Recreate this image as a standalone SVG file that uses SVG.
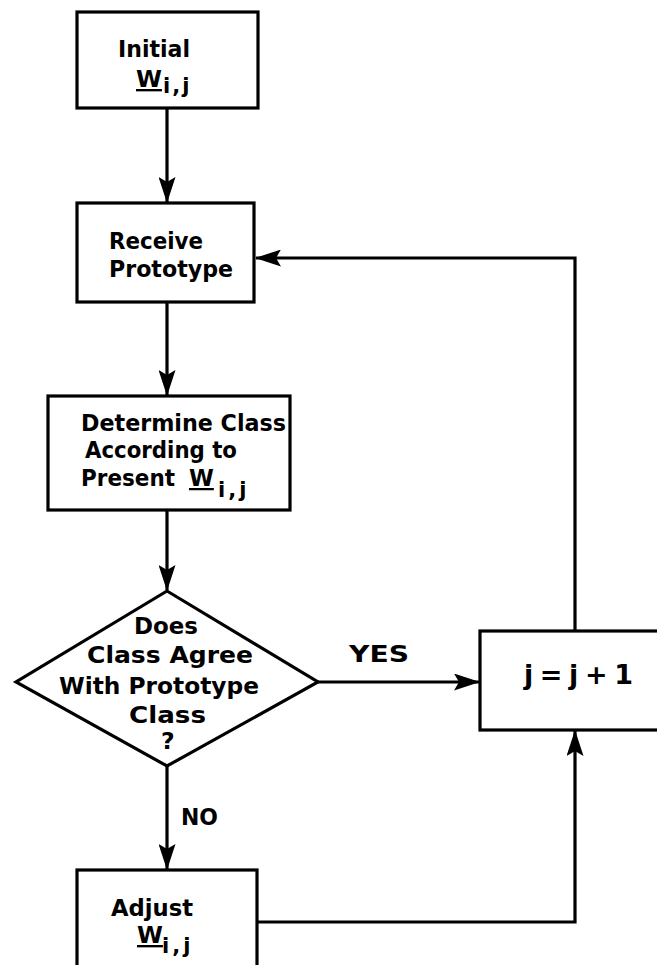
<svg xmlns="http://www.w3.org/2000/svg" width="657" height="965" viewBox="0 0 657 965">
<style>
.box{fill:#fff;stroke:#000;stroke-width:3.2}
.ln{fill:none;stroke:#000;stroke-width:3.2}
text{font-family:"DejaVu Sans","Liberation Sans",Arial,sans-serif;font-size:23.5px;font-weight:bold;fill:#000}
.sub{font-size:21px}
.big{font-size:27px}
.mid{font-size:22.5px}
.ul{text-decoration:underline}
</style>
<defs>
<marker id="ah" viewBox="0 0 26 17" refX="25" refY="8.5" markerWidth="26" markerHeight="17" markerUnits="userSpaceOnUse" orient="auto">
<path d="M0,0 L26,8.5 L0,17 L5,8.5 Z" fill="#000"/>
</marker>
</defs>
<rect width="657" height="965" fill="#fff"/>
<g id="connectors">
<line class="ln" x1="167" y1="108" x2="167" y2="202" marker-end="url(#ah)"/>
<line class="ln" x1="167" y1="302" x2="167" y2="395" marker-end="url(#ah)"/>
<line class="ln" x1="167" y1="510" x2="167" y2="590" marker-end="url(#ah)"/>
<line class="ln" x1="167" y1="766" x2="167" y2="869" marker-end="url(#ah)"/>
<line class="ln" x1="318" y1="682" x2="479" y2="682" marker-end="url(#ah)"/>
<polyline class="ln" points="575,631 575,258 256,258" marker-end="url(#ah)"/>
<polyline class="ln" points="257,922 575,922 575,731" marker-end="url(#ah)"/>
</g>
<g id="initial">
<rect class="box" x="77" y="12" width="181" height="96"/>
<text x="118" y="57" textLength="72" lengthAdjust="spacingAndGlyphs">Initial</text>
<text x="136" y="87"><tspan class="ul">W</tspan></text>
<text class="sub" x="163" y="93" letter-spacing="2">i,j</text>
</g>
<g id="receive">
<rect class="box" x="77" y="203" width="177" height="99"/>
<text x="109" y="249" textLength="94" lengthAdjust="spacingAndGlyphs">Receive</text>
<text x="109" y="277" textLength="124" lengthAdjust="spacingAndGlyphs">Prototype</text>
</g>
<g id="determine">
<rect class="box" x="48" y="396" width="242" height="114"/>
<text class="mid" x="81" y="431" textLength="205" lengthAdjust="spacingAndGlyphs">Determine Class</text>
<text class="mid" x="85" y="458" textLength="152" lengthAdjust="spacingAndGlyphs">According to</text>
<text class="mid" x="81" y="486" textLength="94" lengthAdjust="spacingAndGlyphs">Present</text>
<text class="mid" x="189" y="486"><tspan class="ul">W</tspan></text>
<text class="sub" x="218" y="497" letter-spacing="3">i,j</text>
</g>
<g id="decision">
<polygon class="box" points="167,591 318,682 167,766 16,682"/>
<text x="134" y="634" textLength="64" lengthAdjust="spacingAndGlyphs">Does</text>
<text x="87" y="663" textLength="166" lengthAdjust="spacingAndGlyphs">Class Agree</text>
<text x="59" y="694" textLength="200" lengthAdjust="spacingAndGlyphs">With Prototype</text>
<text x="129" y="723" textLength="77" lengthAdjust="spacingAndGlyphs">Class</text>
<text x="161" y="749">?</text>
</g>
<g id="increment">
<rect class="box" x="480" y="631" width="200" height="99"/>
<text class="big" x="524" y="684" textLength="109" lengthAdjust="spacing">j = j + 1</text>
</g>
<g id="adjust">
<rect class="box" x="77" y="870" width="180" height="120"/>
<text x="111" y="916" textLength="82" lengthAdjust="spacingAndGlyphs">Adjust</text>
<text x="137" y="943"><tspan class="ul">W</tspan></text>
<text class="sub" x="162" y="953" letter-spacing="3">i,j</text>
</g>
<g id="labels">
<text x="349" y="662" textLength="60" lengthAdjust="spacingAndGlyphs">YES</text>
<text x="181" y="825" textLength="37" lengthAdjust="spacingAndGlyphs">NO</text>
</g>
</svg>
